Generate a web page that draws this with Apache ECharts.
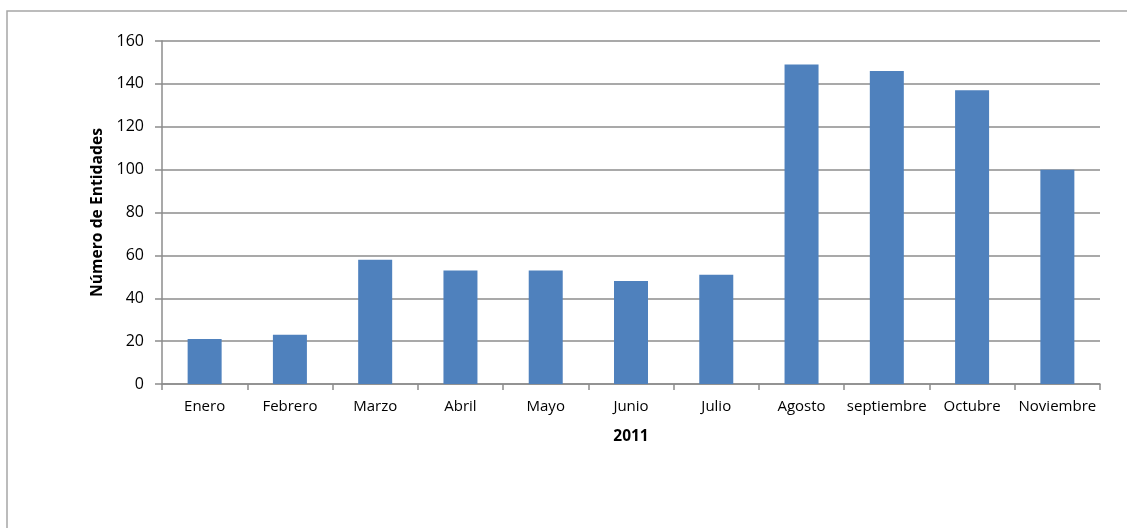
<!DOCTYPE html>
<html>
<head>
<meta charset="utf-8">
<script src="https://cdn.jsdelivr.net/npm/echarts@6/dist/echarts.min.js"></script>
<style>
html,body{margin:0;padding:0;background:#fff;}
#chart{width:1127px;height:528px;}
</style>
</head>
<body>
<div id="chart"></div>
<script>
const categories = ["Enero","Febrero","Marzo","Abril","Mayo","Junio","Julio","Agosto","septiembre","Octubre","Noviembre"];
const entidades = [21, 23, 58, 53, 53, 48, 51, 149, 146, 137, 100];
const yTicks = [0, 20, 40, 60, 80, 100, 120, 140, 160];
const xTitle = "2011";
const yTitle = "Número de Entidades";

const FONT = "'Open Sans', 'Noto Sans', sans-serif";
const chart = echarts.init(document.getElementById('chart'));
chart.setOption({
  animation: false,
  backgroundColor: '#ffffff',
  graphic: [{
    type: 'rect',
    shape: { x: 7, y: 11, width: 1200, height: 700 },
    style: { fill: 'none', stroke: '#a6a6a6', lineWidth: 1.5 },
    silent: true
  }],
  grid: { left: 162, right: 27, top: 41, bottom: 144 },
  xAxis: {
    type: 'category',
    data: categories,
    name: xTitle,
    nameLocation: 'middle',
    nameGap: 45,
    nameTextStyle: { fontFamily: FONT, fontSize: 15.5, fontWeight: 'bold', color: '#000' },
    axisLine: { lineStyle: { color: '#8c8c8c', width: 1.5 } },
    axisTick: { show: true, length: 6, lineStyle: { color: '#8c8c8c', width: 1.5 } },
    axisLabel: { fontFamily: FONT, fontSize: 15, color: '#000', margin: 15, interval: 0 }
  },
  yAxis: {
    type: 'value',
    min: yTicks[0],
    max: yTicks[yTicks.length - 1],
    interval: yTicks[1] - yTicks[0],
    name: yTitle,
    nameLocation: 'middle',
    nameGap: 52,
    nameRotate: 90,
    nameTextStyle: { fontFamily: FONT, fontSize: 15.7, fontWeight: 'bold', color: '#000' },
    axisLine: { show: true, lineStyle: { color: '#8c8c8c', width: 1.5 } },
    axisTick: { show: true, length: 7, lineStyle: { color: '#8c8c8c', width: 1.5 } },
    axisLabel: { fontFamily: FONT, fontSize: 16, color: '#000', margin: 18 },
    splitLine: { show: true, lineStyle: { color: '#8c8c8c', width: 1.5 } }
  },
  series: [{
    type: 'bar',
    data: entidades,
    barWidth: 34,
    itemStyle: { color: '#4f81bd' }
  }]
});
</script>
</body>
</html>
